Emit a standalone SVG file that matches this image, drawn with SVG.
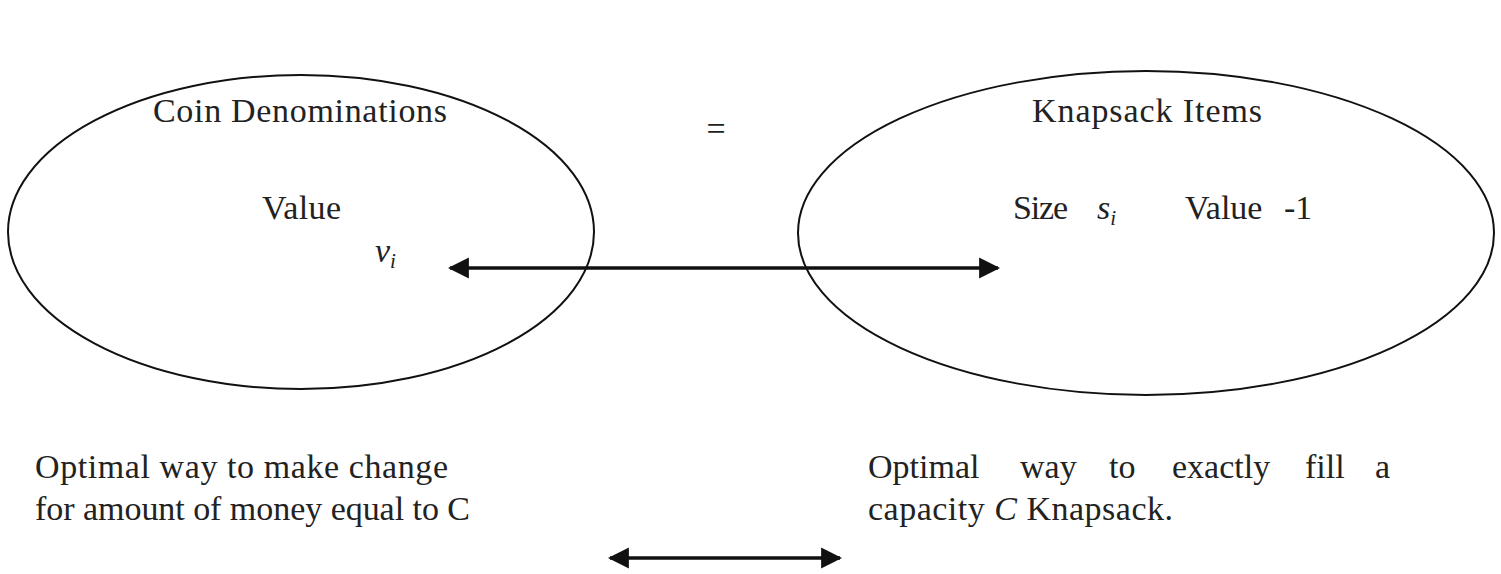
<svg xmlns="http://www.w3.org/2000/svg" width="1501" height="574" viewBox="0 0 1501 574">
<style>
text{font-family:"Liberation Serif","DejaVu Serif",serif;fill:#222;font-size:34px}
.it{font-style:italic}
.sub{font-style:italic;font-size:21px}
.ell{fill:none;stroke:#111;stroke-width:2}
.conn{stroke:#111;stroke-width:3.5;fill:none}
</style>
<defs>
<marker id="ah" viewBox="0 0 10 10" refX="9" refY="5" markerWidth="6" markerHeight="7" markerUnits="strokeWidth" orient="auto-start-reverse">
<path d="M0,0 L10,5 L0,10 Z" fill="#111"/>
</marker>
</defs>
<rect width="1501" height="574" fill="#fff"/>
<g id="coin">
<ellipse class="ell" cx="301" cy="232" rx="293" ry="157"/>
<text x="153" y="122" textLength="294">Coin Denominations</text>
<text x="262" y="219" textLength="79">Value</text>
<text x="375" y="262" class="it">v<tspan class="sub" dy="6">i</tspan></text>
</g>
<g id="knapsack">
<ellipse class="ell" cx="1146" cy="233" rx="348" ry="162"/>
<text x="1032" y="122" textLength="230">Knapsack Items</text>
<text x="1013" y="219" textLength="55">Size</text>
<text x="1097" y="219" class="it">s<tspan class="sub" dy="6">i</tspan></text>
<text x="1185" y="219">Value<tspan x="1284">-1</tspan></text>
</g>
<g id="eq">
<text x="716" y="140" text-anchor="middle" font-size="22">=</text>
</g>
<g id="coin-desc">
<text x="35" y="478" textLength="413">Optimal way to make change</text>
<text x="35" y="520" textLength="435">for amount of money equal to C</text>
</g>
<g id="knapsack-desc">
<text y="478"><tspan x="868">Optimal</tspan><tspan x="1020">way</tspan><tspan x="1109">to</tspan><tspan x="1172">exactly</tspan><tspan x="1305">fill</tspan><tspan x="1375">a</tspan></text>
<text x="868" y="520" textLength="305">capacity <tspan class="it">C</tspan> Knapsack.</text>
</g>
<g id="connectors">
<line class="conn" x1="450" y1="268" x2="998" y2="268" marker-start="url(#ah)" marker-end="url(#ah)"/>
<line class="conn" x1="610" y1="558" x2="840" y2="558" marker-start="url(#ah)" marker-end="url(#ah)"/>
</g>
</svg>
